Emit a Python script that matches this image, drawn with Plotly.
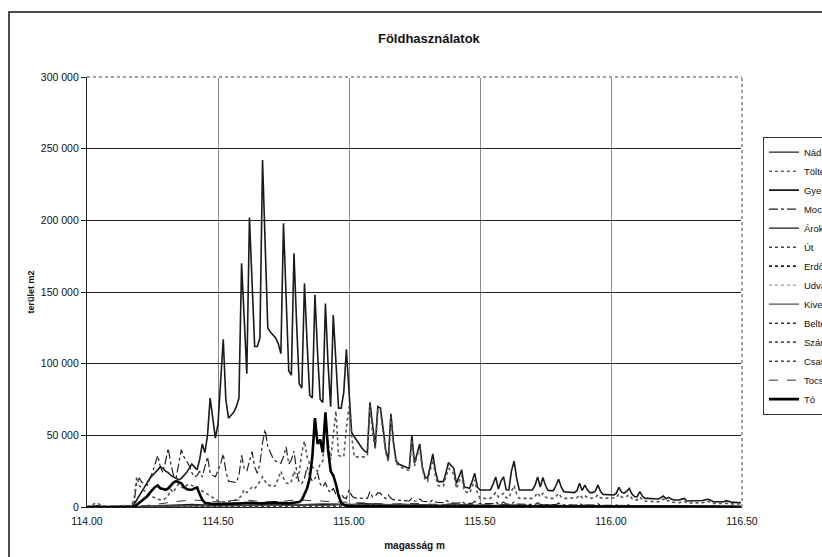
import plotly.graph_objects as go

# ---------------- data ----------------
# fine height grid 114.00 .. 116.50 (step 0.01 m)
heights = [round(114.00 + 0.01 * i, 2) for i in range(251)]
# coarse height grid 114.00 .. 116.50 (step 0.05 m) for the small land-use classes
heights_c = [round(114.00 + 0.05 * i, 2) for i in range(51)]

gyep = [
    0, 300, 600, 900, 800, 500, 300, 200, 200, 300,
    400, 300, 200, 200, 300, 400, 500, 800, 2000, 5000,
    9000, 12000, 15000, 18000, 20000, 22000, 24000, 26000, 28000, 27000,
    25000, 24000, 22000, 21000, 20000, 19000, 20000, 22000, 24000, 27000,
    30000, 28000, 26000, 33000, 44000, 38000, 50000, 76000, 62000, 48000,
    58000, 90000, 117000, 75000, 62000, 64000, 66000, 70000, 76000, 170000,
    130000, 93000, 202000, 155000, 112000, 112000, 118000, 242000, 180000, 125000,
    122000, 120000, 118000, 114000, 107000, 198000, 145000, 95000, 92000, 177000,
    128000, 86000, 83000, 156000, 115000, 78000, 76000, 148000, 108000, 75000,
    73000, 142000, 100000, 70000, 134000, 100000, 69000, 69000, 80000, 110000,
    80000, 52000, 49000, 46000, 44000, 41000, 39000, 38000, 73000, 55000,
    42000, 70000, 69000, 55000, 40000, 33000, 65000, 45000, 32000, 30000,
    29000, 28000, 27500, 27000, 50000, 30500, 38000, 44000, 28000, 21000,
    20000, 28000, 37000, 25000, 17700, 17700, 17700, 24000, 31000, 29000,
    27000, 16500, 22000, 26000, 14000, 13500, 13000, 18000, 23500, 14000,
    11900, 11900, 11900, 11900, 11900, 16000, 21000, 12500, 18000, 21000,
    12000, 11900, 25000, 32000, 20000, 11900, 11900, 11900, 11900, 11900,
    11900, 15000, 21000, 14000, 20500, 15000, 11500, 11400, 11400, 15000,
    19300, 14000, 10700, 10500, 10200, 10000, 10000, 11400, 16500, 11500,
    15300, 12000, 10000, 10000, 11000, 15300, 11000, 8800, 8600, 8400,
    8400, 8400, 9500, 13700, 10500, 9500, 11000, 13000, 9000, 7200,
    7200, 10700, 7500, 6000, 6000, 5800, 5700, 5600, 5600, 6500,
    7700, 5800, 6700, 5500, 4900, 4900, 4900, 5500, 6000, 4200,
    4200, 4200, 4200, 4200, 4200, 4500, 5000, 5400, 4800, 3700,
    3700, 3700, 3700, 3700, 4400, 3800, 3300, 3200, 3100, 3000,
    3000,
]

szanto = [
    0, 500, 1500, 2500, 2800, 1500, 800, 400, 300, 200,
    200, 200, 200, 300, 300, 400, 600, 1000, 6000, 21000,
    15000, 13000, 11000, 9000, 8000, 7000, 6000, 5500, 5000, 5000,
    6000, 8000, 12000, 10000, 14000, 16000, 14000, 13000, 15000, 16000,
    15000, 14500, 14000, 12000, 11000, 10000, 9500, 8000, 6500, 5000,
    4500, 4000, 3700, 3700, 3800, 4000, 4500, 5000, 6000, 8000,
    11900, 10000, 12000, 14000, 13000, 15000, 18000, 21000, 18000, 15300,
    15000, 14000, 15000, 20000, 25000, 20000, 17000, 16000, 18000, 25000,
    20000, 24000, 38000, 46000, 35000, 30000, 28000, 26000, 25000, 30000,
    32000, 60000, 45000, 33000, 50000, 67000, 36000, 35500, 35000, 55000,
    70000, 50000, 35000, 35000, 35000, 35000, 35000, 36000, 71000, 52000,
    40000, 68000, 67000, 52000, 38000, 31500, 63000, 43000, 30500, 29000,
    27500, 26500, 26000, 25500, 47000, 28500, 36000, 41000, 27000, 19000,
    18000, 25000, 33000, 22000, 15000, 14500, 14500, 21000, 27000, 25000,
    23000, 13000, 18000, 22000, 11000, 10000, 9500, 14000, 19000, 10000,
    6000, 6000, 6000, 6000, 6000, 8000, 10000, 7000, 8500, 9500,
    6500, 6200, 11000, 15000, 9000, 6000, 6000, 6000, 6000, 6000,
    6000, 7500, 10000, 7000, 9500, 7000, 6000, 6000, 6000, 7500,
    9500, 7000, 6000, 6000, 6000, 6000, 6000, 6500, 8500, 6500,
    8000, 6500, 6000, 6000, 6500, 8500, 6500, 6000, 6000, 6000,
    6000, 6000, 6500, 9000, 7000, 6500, 7500, 8500, 6000, 5000,
    5000, 7000, 5000, 4000, 4000, 3800, 3700, 3600, 3600, 4500,
    5500, 3800, 4500, 3500, 3000, 3000, 3000, 3500, 4000, 2800,
    2800, 2800, 2800, 2800, 2800, 3000, 3500, 4000, 3300, 2500,
    2500, 2500, 2500, 2500, 3000, 2500, 2200, 2100, 2000, 2000,
    2000,
]

mocsar = [
    0, 0, 0, 0, 0, 0, 0, 0, 0, 0,
    0, 0, 0, 0, 0, 0, 0, 500, 3000, 18000,
    20000, 17000, 16000, 15000, 20000, 24000, 30000, 36000, 28000, 24000,
    32000, 41000, 30000, 22000, 20000, 30000, 40000, 35000, 32000, 29000,
    24000, 21000, 22000, 25000, 21000, 28000, 35000, 24000, 22000, 21000,
    26000, 30000, 37000, 25000, 18000, 17500, 17000, 17000, 22000, 36000,
    27000, 25000, 32000, 38600, 28000, 23500, 30000, 45000, 54000, 42000,
    38000, 34000, 32000, 31000, 30500, 35000, 42000, 30000, 33000, 39000,
    25000, 17000, 16500, 20000, 28000, 22000, 18000, 20000, 24000, 16000,
    14000, 17000, 12000, 10000, 13000, 9000, 7000, 9000, 6500, 6000,
    11900, 8000, 6500, 6200, 6000, 6000, 6000, 6000, 10700, 7000,
    7500, 10000, 9500, 7000, 6000, 8400, 6000, 5000, 4800, 4600,
    4500, 4400, 4300, 4200, 6000, 4200, 4000, 5500, 4000, 3800,
    3600, 3500, 5000, 3500, 3200, 3000, 3000, 4500, 3500, 3000,
    2800, 2800, 2700, 4000, 2600, 2500, 2500, 2500, 4000, 2500,
    2400, 2400, 2300, 2300, 2300, 2300, 3500, 2200, 2200, 3500,
    2100, 2100, 2000, 3500, 2000, 2000, 2000, 1900, 1900, 1900,
    1800, 1800, 3000, 1800, 1700, 1700, 1700, 1700, 1600, 1600,
    2800, 1600, 1500, 1500, 1500, 1500, 1500, 1400, 2500, 1400,
    1400, 1400, 1300, 1300, 1300, 2300, 1300, 1200, 1200, 1200,
    1200, 1100, 1100, 2000, 1100, 1000, 1000, 1800, 1000, 1000,
    900, 900, 900, 900, 900, 800, 800, 800, 800, 800,
    1200, 800, 700, 700, 700, 700, 700, 700, 1000, 600,
    600, 600, 600, 600, 600, 600, 600, 900, 600, 500,
    500, 500, 500, 500, 500, 500, 400, 400, 400, 400,
    400,
]

to = [
    0, 0, 0, 0, 0, 0, 0, 0, 0, 0,
    0, 0, 0, 0, 0, 0, 0, 0, 0, 1500,
    3000, 4500, 6000, 7500, 10000, 12000, 14000, 15000, 13000, 12500,
    12000, 13000, 15000, 17000, 18000, 17500, 16500, 14000, 12500, 12000,
    12000, 13000, 13500, 9000, 5000, 3000, 2500, 2000, 2000, 2000,
    2000, 2200, 2500, 2500, 2300, 2200, 2000, 2000, 2200, 2500,
    2800, 3000, 3200, 3000, 2800, 2600, 2500, 2500, 2800, 3000,
    3200, 3500, 3200, 3000, 2800, 2600, 2500, 2500, 2800, 3000,
    3000, 3500, 5000, 9000, 13000, 20000, 35000, 62000, 44000, 47000,
    38000, 66000, 40000, 25000, 22000, 16000, 8000, 3000, 1500, 800,
    600, 500, 400, 400, 500, 400, 300, 400, 600, 400,
    400, 500, 400, 300, 300, 400, 500, 400, 300, 300,
    300, 300, 300, 300, 500, 300, 300, 400, 300, 300,
    300, 300, 400, 300, 300, 300, 300, 400, 300, 300,
    300, 300, 300, 400, 300, 300, 300, 300, 400, 300,
    200, 200, 200, 200, 200, 200, 300, 200, 200, 300,
    200, 200, 300, 400, 200, 200, 200, 200, 200, 200,
    200, 200, 300, 200, 300, 200, 200, 200, 200, 200,
    300, 200, 200, 200, 200, 200, 200, 200, 300, 200,
    200, 200, 200, 200, 200, 300, 200, 200, 200, 200,
    200, 200, 200, 300, 200, 200, 200, 300, 200, 200,
    200, 200, 200, 100, 100, 100, 100, 100, 100, 100,
    200, 100, 100, 100, 100, 100, 100, 100, 100, 100,
    100, 100, 100, 100, 100, 100, 100, 200, 100, 100,
    100, 100, 100, 100, 100, 100, 100, 100, 100, 100,
    100,
]

# small classes on the coarse grid
nad = [0, 0, 0, 0, 300, 800, 1200, 1500, 1800, 1500,
       1200, 1000, 1300, 1600, 2000, 1800, 1500, 1700, 2200, 1800,
       1500, 2500, 1800, 1500, 1400, 1800, 1300, 1200, 2200, 1200,
       1100, 1000, 1500, 1000, 900, 1400, 900, 800, 1200, 800,
       800, 700, 1000, 700, 600, 500, 600, 500, 400, 300, 200]
toltes = [0, 200, 400, 300, 200, 200, 300, 500, 700, 900,
          1000, 1200, 1000, 900, 1100, 1300, 1500, 1200, 1000, 1400,
          1600, 1300, 1100, 1000, 1200, 1500, 1100, 1000, 900, 1300,
          900, 800, 1100, 800, 700, 1000, 700, 600, 900, 600,
          500, 500, 700, 500, 400, 400, 500, 300, 300, 200, 200]
arok = [0, 0, 0, 0, 0, 200, 500, 800, 1000, 1200,
        1500, 1200, 1000, 1200, 1500, 1700, 1400, 1200, 1500, 2000,
        1600, 1300, 2000, 1500, 1300, 1600, 1200, 1100, 1800, 1100,
        1000, 900, 1300, 900, 800, 1200, 800, 700, 1000, 700,
        600, 600, 900, 600, 500, 500, 600, 400, 300, 300, 200]
ut = [0, 100, 200, 200, 100, 300, 500, 700, 600, 800,
      900, 1000, 800, 700, 900, 1100, 1000, 800, 900, 1200,
      1000, 900, 1300, 1000, 900, 1100, 900, 800, 1200, 800,
      700, 700, 1000, 700, 600, 900, 600, 500, 800, 500,
      500, 400, 600, 400, 400, 300, 400, 300, 200, 200, 100]
erdo = [0, 0, 100, 100, 100, 200, 400, 600, 800, 700,
        600, 800, 1000, 800, 700, 900, 1200, 900, 800, 1000,
        1400, 1000, 900, 1100, 1500, 1100, 900, 800, 1300, 800,
        700, 600, 1100, 600, 500, 900, 500, 500, 800, 500,
        400, 400, 700, 400, 300, 300, 500, 300, 200, 200, 100]
udvar = [0, 300, 900, 1200, 900, 400, 300, 300, 400, 500,
         600, 700, 600, 500, 700, 900, 800, 700, 900, 1100,
         900, 800, 1200, 900, 800, 1000, 800, 700, 1000, 700,
         600, 600, 900, 600, 500, 800, 500, 500, 700, 500,
         400, 400, 600, 400, 300, 300, 400, 200, 200, 100, 100]
kivett = [0, 0, 0, 0, 100, 300, 600, 900, 1200, 1000,
          800, 1100, 1400, 1100, 900, 1200, 1600, 1300, 1000, 1500,
          2000, 1400, 1200, 1600, 2200, 1500, 1200, 1000, 1700, 1000,
          900, 800, 1400, 800, 700, 1200, 700, 600, 1000, 600,
          500, 500, 800, 500, 400, 400, 600, 300, 300, 200, 100]
belterulet = [0, 0, 0, 100, 200, 300, 400, 500, 600, 500,
              400, 600, 800, 600, 500, 700, 900, 700, 600, 800,
              1000, 800, 700, 900, 1100, 800, 700, 600, 1000, 600,
              500, 500, 800, 500, 400, 700, 400, 400, 600, 400,
              300, 300, 500, 300, 300, 200, 300, 200, 100, 100, 100]
csatorna = [0, 0, 0, 0, 0, 100, 300, 500, 700, 600,
            500, 700, 900, 700, 600, 800, 1000, 800, 700, 900,
            1200, 900, 800, 1000, 1300, 900, 800, 700, 1100, 700,
            600, 600, 900, 600, 500, 800, 500, 400, 700, 400,
            400, 300, 500, 300, 300, 200, 300, 200, 200, 100, 100]
tocsogo = [0, 0, 0, 0, 500, 1500, 3000, 4000, 5000, 4000,
           3500, 4500, 5000, 4000, 3500, 4000, 5000, 4500, 4000, 3500,
           3000, 2500, 2200, 2000, 2200, 2500, 2000, 1800, 2200, 1700,
           1500, 1400, 1800, 1300, 1200, 1500, 1100, 1000, 1300, 900,
           800, 800, 1000, 700, 600, 600, 700, 500, 400, 300, 200]

for arr in (gyep, szanto, mocsar, to):
    assert len(arr) == len(heights), len(arr)
for arr in (nad, toltes, arok, ut, erdo, udvar, kivett, belterulet, csatorna, tocsogo):
    assert len(arr) == len(heights_c), len(arr)

# (name, x, y, color, width, dash) in legend order
series = [
    ("Nád", heights_c, nad, "#222222", 1.2, "solid"),
    ("Töltés", heights_c, toltes, "#666666", 1.5, "dot"),
    ("Gyep", heights, gyep, "#1a1a1a", 1.6, "solid"),
    ("Mocsár", heights, mocsar, "#222222", 1.2, "dashdot"),
    ("Árok", heights_c, arok, "#1a1a1a", 1.4, "solid"),
    ("Út", heights_c, ut, "#444444", 1.5, "dot"),
    ("Erdő", heights_c, erdo, "#222222", 1.8, "dot"),
    ("Udvar", heights_c, udvar, "#999999", 1.2, "dot"),
    ("Kivett", heights_c, kivett, "#555555", 1.2, "solid"),
    ("Belterület", heights_c, belterulet, "#333333", 1.5, "dot"),
    ("Szántó", heights, szanto, "#555555", 1.6, "dot"),
    ("Csatorna", heights_c, csatorna, "#444444", 1.5, "dot"),
    ("Tocsogó", heights_c, tocsogo, "#333333", 1.0, "dash"),
    ("Tó", heights, to, "#000000", 2.6, "solid"),
]

FONT = "Liberation Sans, Arial, sans-serif"

fig = go.Figure()
for name, xs, ys, col, w, dash in series:
    fig.add_trace(go.Scatter(
        x=xs, y=ys, name=name, mode="lines",
        line=dict(color=col, width=w, dash=dash),
    ))

fig.update_layout(
    width=822, height=557,
    margin=dict(l=87, r=80, t=77, b=50, autoexpand=False),
    paper_bgcolor="white", plot_bgcolor="white",
    font=dict(family=FONT, size=10, color="#111111"),
    separators=". ",
    title=dict(text="<b>Földhasználatok</b>", x=0.522, xref="paper",
               y=1 - 38 / 557, yanchor="middle", xanchor="center",
               font=dict(size=13, family=FONT, color="#111111")),
    showlegend=True,
    legend=dict(x=1.032, xanchor="left", y=0.538, yanchor="middle",
                bgcolor="white", bordercolor="#333333", borderwidth=1,
                font=dict(size=9.5, family=FONT, color="#111111"),
                tracegroupgap=0, itemwidth=30),
    xaxis=dict(range=[114.0, 116.5], dtick=0.5, tick0=114.0, tickformat=".2f",
               showgrid=True, gridcolor="#8a8a8a", gridwidth=1,
               showline=True, linecolor="#222222", linewidth=1,
               ticks="", zeroline=False, ticklabelstandoff=4,
               tickfont=dict(size=10.5, family=FONT, color="#111111"),
               title=dict(text="<b>magasság m</b>", standoff=16,
                          font=dict(size=10, family=FONT, color="#111111"))),
    yaxis=dict(range=[0, 300000], dtick=50000, tickformat=",d",
               showgrid=True, gridcolor="#222222", gridwidth=1,
               showline=True, linecolor="#222222", linewidth=1.2,
               ticks="outside", ticklen=5, tickcolor="#222222",
               zeroline=False,
               tickfont=dict(size=10.5, family=FONT, color="#111111"),
               title=dict(text="<b>terület m2</b>", standoff=4,
                          font=dict(size=9, family=FONT, color="#111111"))),
    shapes=[
        # dotted plot-area border top / right
        dict(type="line", xref="paper", yref="paper", x0=0, x1=1, y0=1, y1=1,
             line=dict(color="white", width=2), layer="above"),
        dict(type="line", xref="paper", yref="paper", x0=1, x1=1, y0=0, y1=1,
             line=dict(color="white", width=2), layer="above"),
        dict(type="line", xref="paper", yref="paper", x0=0, x1=1, y0=1, y1=1,
             line=dict(color="#444444", width=1, dash="dot"), layer="above"),
        dict(type="line", xref="paper", yref="paper", x0=1, x1=1, y0=0, y1=1,
             line=dict(color="#444444", width=1, dash="dot"), layer="above"),
        # outer chart frame
        dict(type="rect", xref="paper", yref="paper",
             x0=(9 - 87) / 655, x1=(840 - 87) / 655,
             y0=(507 - 580) / 430, y1=(507 - 12) / 430,
             line=dict(color="#111111", width=1.5), fillcolor="rgba(0,0,0,0)",
             layer="below"),
    ],
)

fig.write_html("out.html")
